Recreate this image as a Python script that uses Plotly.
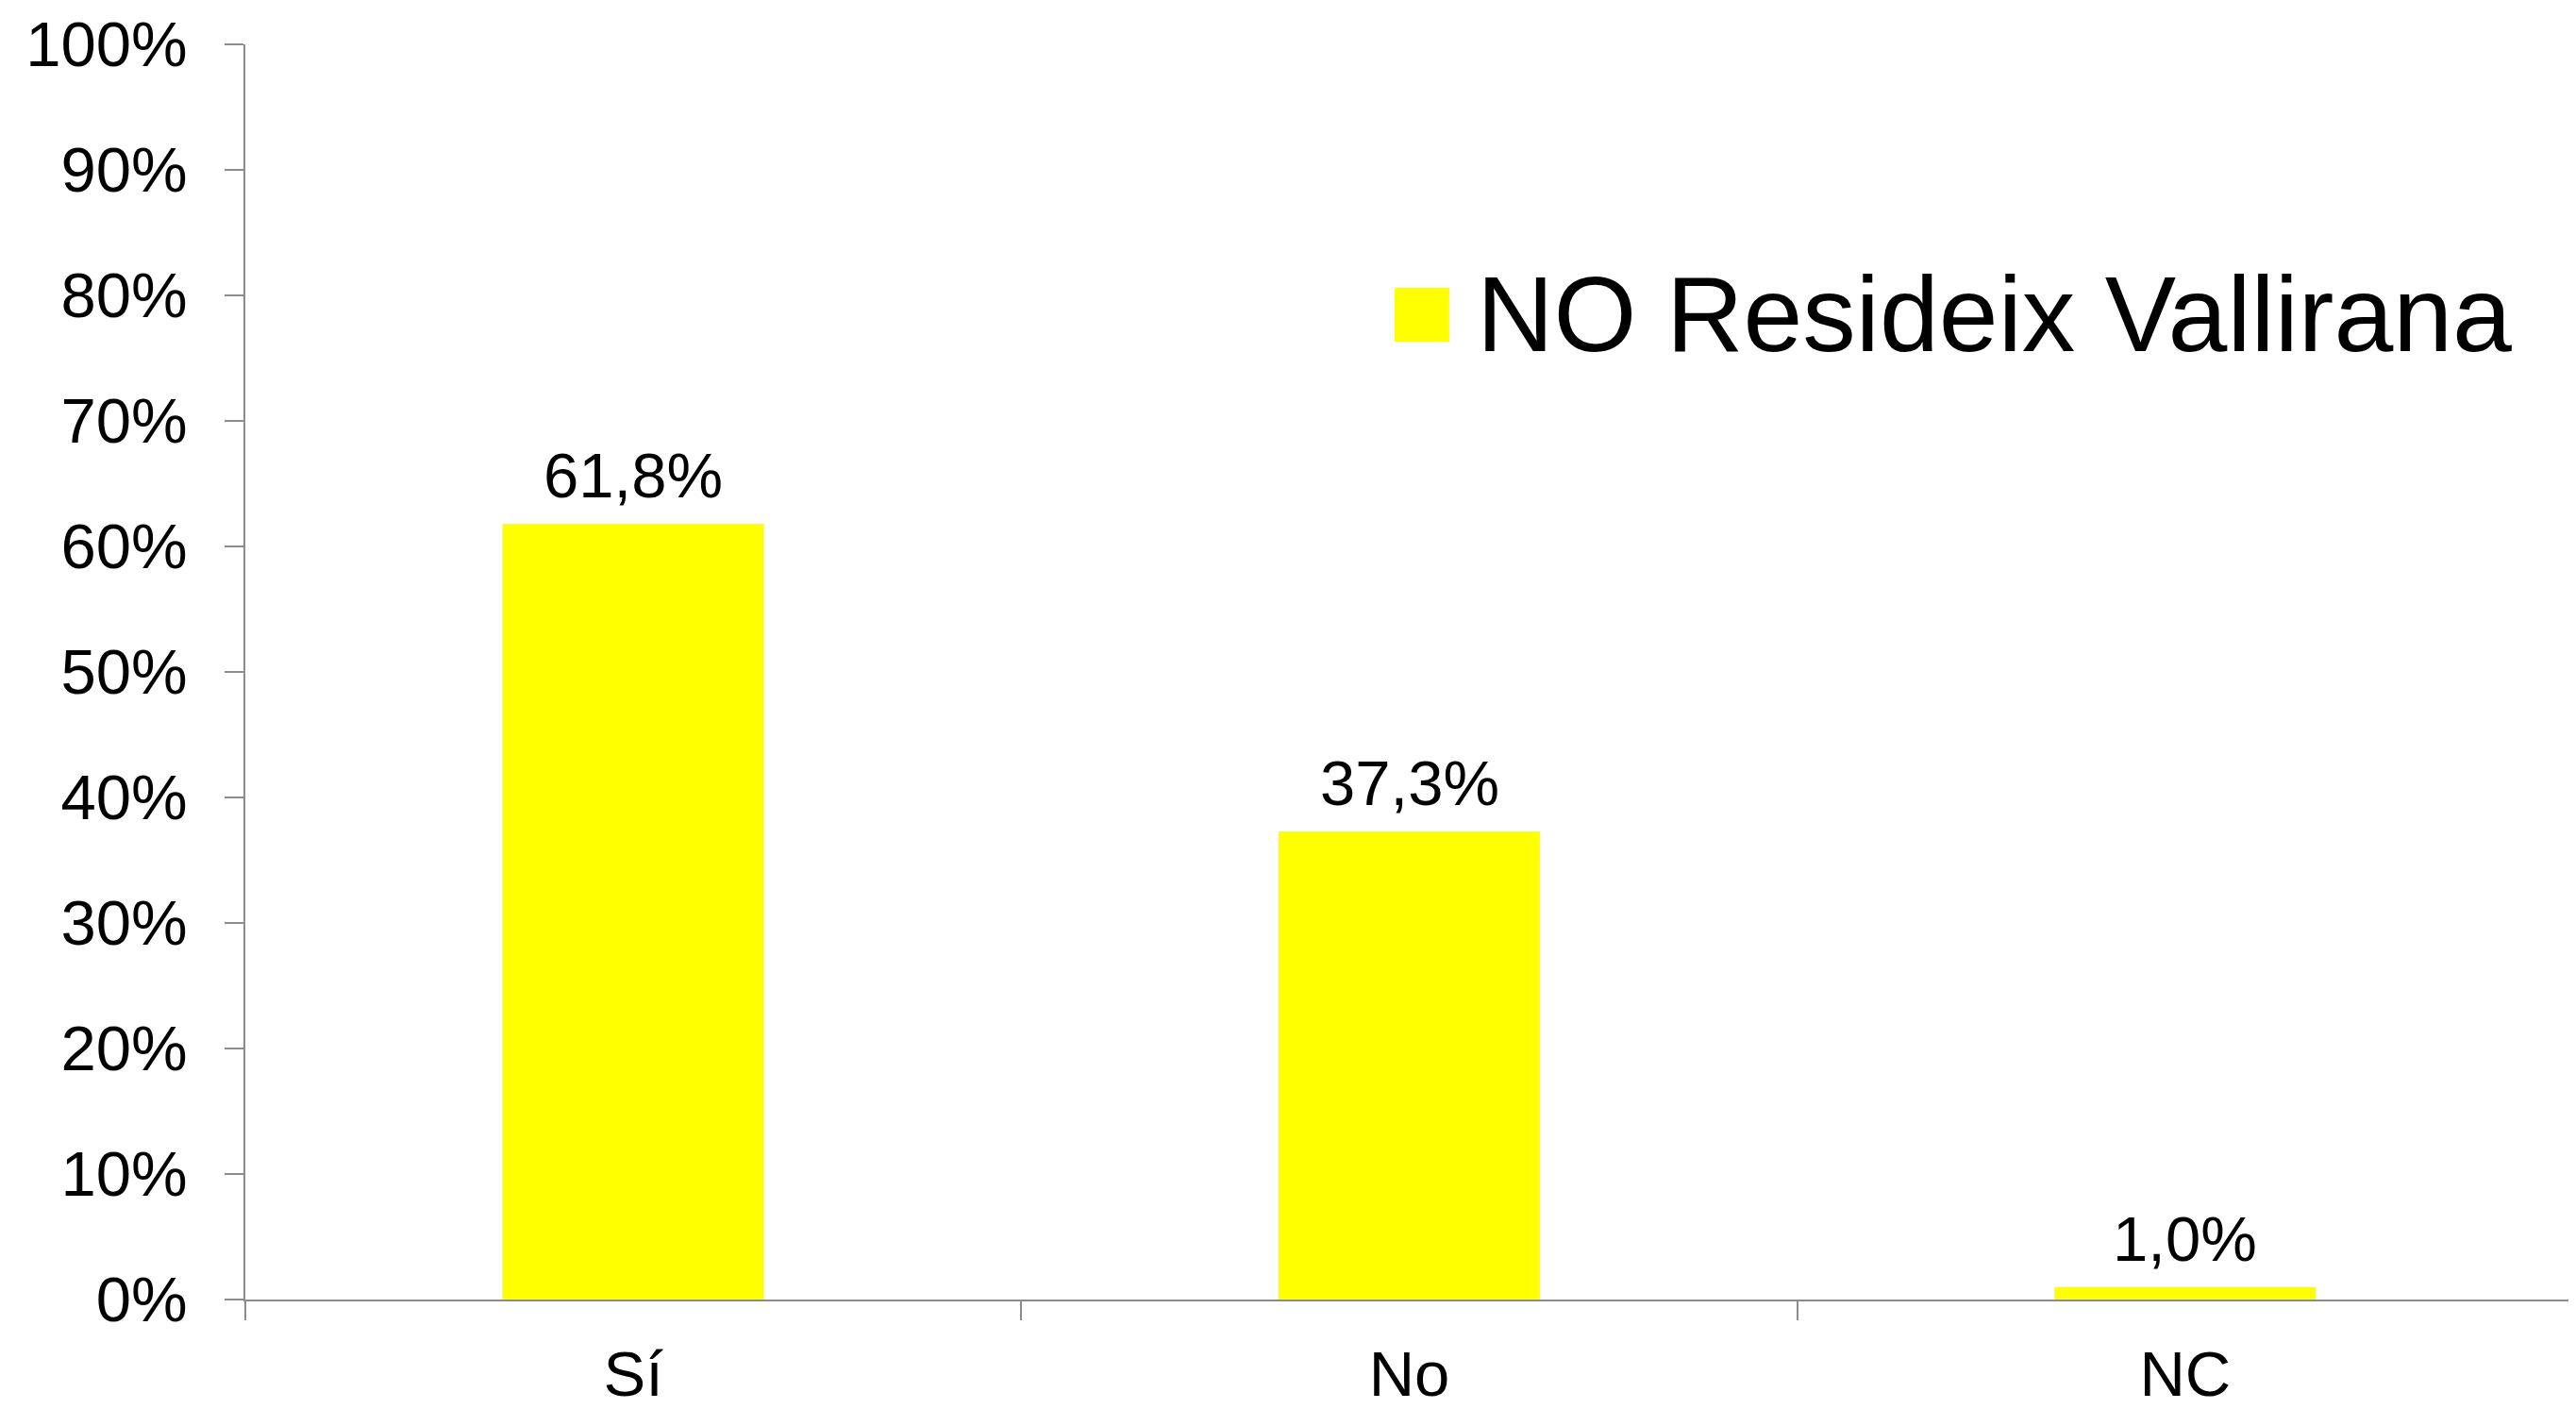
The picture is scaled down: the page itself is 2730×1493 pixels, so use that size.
import plotly.graph_objects as go

categories = ['Sí', 'No', 'NC']
values = [0.618, 0.373, 0.010]
series_name = 'NO Resideix Vallirana'

BAR_COLOR = '#FFFF00'
AXIS_COLOR = '#8c8c8c'
FONT = 'Liberation Sans, Arial, sans-serif'

fig = go.Figure()

fig.add_trace(go.Bar(
    x=categories,
    y=values,
    name=series_name,
    marker_color=BAR_COLOR,
    width=0.337,
    showlegend=False
))

# etiquetes de dades sobre les barres
for cat, val in zip(categories, values):
    fig.add_annotation(
        x=cat, y=val,
        text=f'{val * 100:.1f}%'.replace('.', ','),
        showarrow=False,
        yanchor='bottom',
        yshift=12,
        font=dict(size=67, color='black', family=FONT)
    )

# llegenda dibuixada a mà (el quadrat de plotly és massa petit)
fig.add_shape(
    type='rect', xref='paper', yref='paper',
    x0=0.4937, x1=0.5172, y0=0.763, y1=0.806,
    fillcolor=BAR_COLOR, line_width=0
)
fig.add_annotation(
    text=series_name,
    xref='paper', yref='paper',
    x=0.528, y=0.785,
    xanchor='left', yanchor='middle',
    showarrow=False,
    font=dict(size=113, color='black', family=FONT)
)

fig.update_layout(
    width=2730,
    height=1493,
    plot_bgcolor='white',
    paper_bgcolor='white',
    separators=',.',
    font=dict(family=FONT, size=67, color='black'),
    margin=dict(l=252, r=11, t=39, b=124),
    bargap=0.663,
    xaxis=dict(
        automargin=False,
        showline=True,
        linecolor=AXIS_COLOR,
        linewidth=2,
        ticks='outside',
        tickson='boundaries',
        ticklen=20,
        tickwidth=2,
        tickcolor=AXIS_COLOR,
        showgrid=False,
        ticklabelstandoff=20,
        tickfont=dict(size=67)
    ),
    yaxis=dict(
        automargin=False,
        range=[0, 1],
        tickvals=[i / 10 for i in range(11)],
        tickformat='.0%',
        showline=True,
        linecolor=AXIS_COLOR,
        linewidth=2,
        ticks='outside',
        ticklen=20,
        tickwidth=2,
        tickcolor=AXIS_COLOR,
        showgrid=False,
        zeroline=False,
        ticklabelstandoff=26,
        tickfont=dict(size=67)
    )
)

fig.write_html('out.html')
